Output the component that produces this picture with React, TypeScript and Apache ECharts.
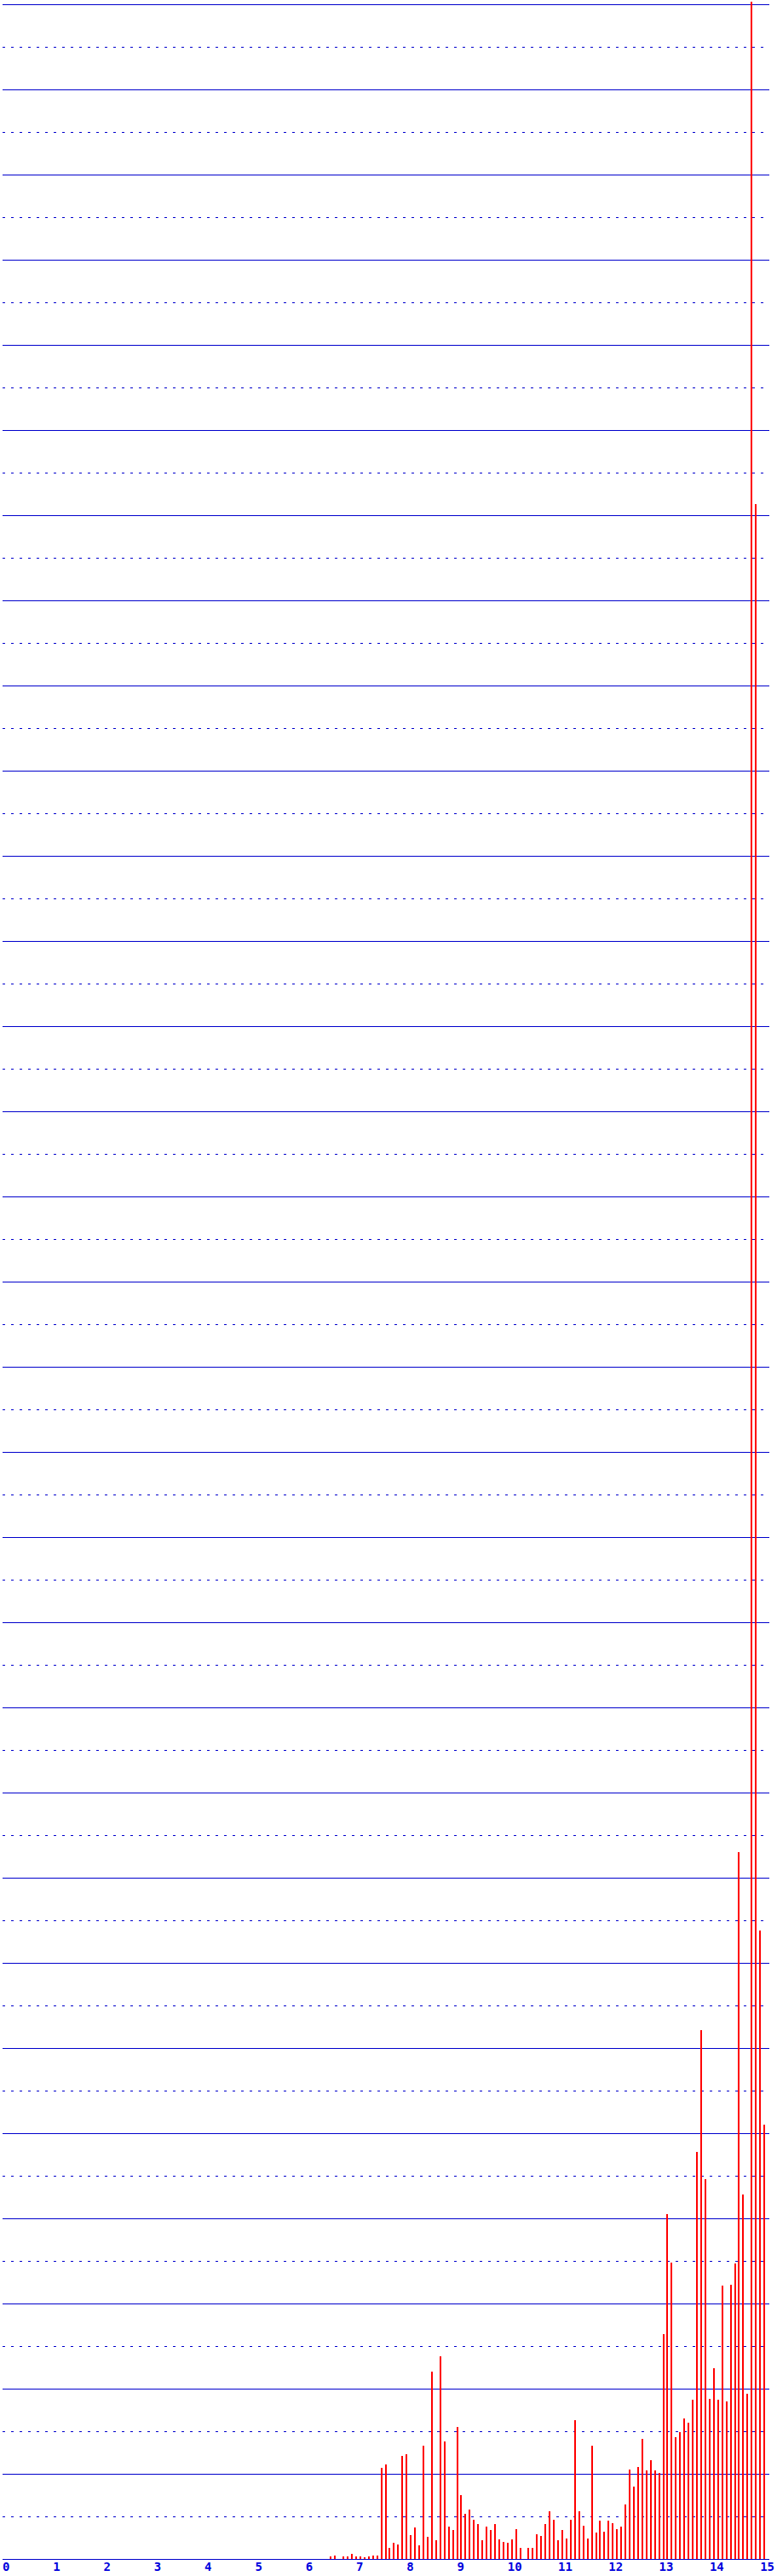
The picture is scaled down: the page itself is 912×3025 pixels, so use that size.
import React, { useEffect, useRef } from "react";
import * as echarts from "echarts";

// Histogram bins: first bin starts at 6.5, each bin is 1/12 wide
const BIN_START = 6.5;
const BIN_WIDTH = 1 / 12;

// Bar heights (one per bin)
const heights: number[] = [
  3, 4, 0, 3, 3, 6, 3, 3, 2, 3, 4, 4,
  107, 111, 13, 19, 17, 121, 123, 28, 37, 16, 133, 26,
  220, 22, 238, 138, 38, 34, 155, 75, 53, 58, 46, 41,
  22, 38, 34, 41, 23, 20, 19, 23, 35, 13, 0, 13,
  13, 29, 27, 41, 56, 46, 22, 34, 24, 46, 163, 56,
  39, 24, 133, 31, 45, 32, 45, 42, 35, 38, 64, 105,
  85, 108, 141, 104, 116, 104, 101, 264, 405, 348, 143, 149,
  165, 160, 187, 478, 621, 446, 188, 224, 187, 321, 185, 322,
  347, 830, 428, 194, 3003, 2413, 738, 510,
];

// Axis settings
const X_MIN = 0;
const X_MAX = 15.1833;
const X_STEP = 1;
const Y_MIN = 0;
const Y_MAX = 3000;
const Y_STEP = 100;

const LINE_BLUE = "#0000cc";
const LABEL_BLUE = "#0000dd";
const BAR_RED = "#ff0000";

export default function App() {
  const ref = useRef<HTMLDivElement>(null);

  useEffect(() => {
    if (!ref.current) return;
    const chart = echarts.init(ref.current, undefined, { renderer: "svg" });
    const data = heights.map((h, i) => [BIN_START + i * BIN_WIDTH, h]);
    chart.setOption({
      animation: false,
      backgroundColor: "#ffffff",
      grid: { left: 1, right: 0, top: 5, bottom: 20, containLabel: false },
      xAxis: {
        type: "value",
        min: X_MIN,
        max: X_MAX,
        interval: X_STEP,
        axisLine: { show: false },
        axisTick: { show: false },
        splitLine: { show: false },
        axisLabel: {
          show: true,
          align: "left",
          margin: 2,
          color: LABEL_BLUE,
          fontFamily: "DejaVu Sans Mono",
          fontWeight: "bold",
          fontSize: 14,
          formatter: (v: number) => (Number.isInteger(v) ? String(v) : ""),
        },
      },
      yAxis: {
        type: "value",
        min: Y_MIN,
        max: Y_MAX,
        interval: Y_STEP,
        axisLine: { show: false },
        axisTick: { show: false },
        axisLabel: { show: false },
        splitLine: { show: true, lineStyle: { color: LINE_BLUE, width: 1, type: "solid" } },
        minorTick: { show: false, splitNumber: 2 },
        minorSplitLine: { show: true, lineStyle: { color: LINE_BLUE, width: 1, type: [3, 7] } },
      },
      series: [
        {
          type: "bar",
          data,
          barWidth: 2,
          clip: false,
          itemStyle: { color: BAR_RED },
        },
      ],
    });
    return () => chart.dispose();
  }, []);

  return (
    <>
      <style>{".chart-box svg path, .chart-box svg line, .chart-box svg rect { shape-rendering: crispEdges; }"}</style>
      <div
        ref={ref}
        className="chart-box"
        style={{ position: "absolute", left: 0, top: 0, width: 912, height: 3025, background: "#fff" }}
      />
    </>
  );
}
